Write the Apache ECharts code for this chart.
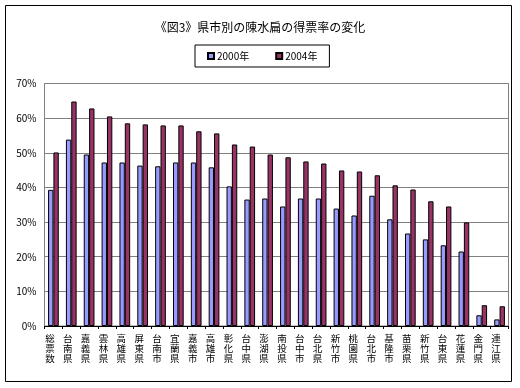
<!DOCTYPE html>
<html>
<head>
<meta charset="utf-8">
<script src="https://cdn.jsdelivr.net/npm/echarts@6/dist/echarts.min.js"></script>
<style>
html,body{margin:0;padding:0;background:#fff;}
#c{width:520px;height:388px;}
</style>
</head>
<body>
<div id="c"></div>
<script>
const categories = ['総票数','台南県','嘉義県','雲林県','高雄県','屏東県','台南市','宜蘭県','嘉義市','高雄市','彰化県','台中県','澎湖県','南投県','台中市','台北県','新竹市','桃園県','台北市','基隆市','苗栗県','新竹県','台東県','花蓮県','金門県','連江県'];
const v2000 = [39.3,53.8,49.5,47.2,47.2,46.3,46.1,47.2,47.2,45.8,40.3,36.5,36.8,34.5,36.8,36.8,33.9,31.9,37.6,30.8,26.7,25.0,23.3,21.5,3.1,1.9];
const v2004 = [50.1,64.8,62.8,60.5,58.5,58.2,57.9,57.9,56.2,55.6,52.4,51.8,49.5,48.7,47.5,46.9,44.9,44.6,43.5,40.6,39.4,36.0,34.5,29.9,6.0,5.7];
const yTicks = [0,10,20,30,40,50,60,70];

const font = '"Noto Sans CJK JP", "Noto Sans", sans-serif';
const chart = echarts.init(document.getElementById('c'), null, {renderer:'canvas'});
chart.setOption({
  backgroundColor:'#fff',
  animation:false,
  title:{
    text:'《図3》県市別の陳水扁の得票率の変化',
    left:'center', top:16,
    textStyle:{fontFamily:font,fontSize:12,fontWeight:'normal',color:'#000'}
  },
  legend:{
    left:195, top:45,
    width:117,
    borderColor:'#000', borderWidth:1,
    padding:[6,12,6,12],
    itemWidth:6, itemHeight:6, itemGap:26,
    icon:'rect',
    textStyle:{fontFamily:font,fontSize:10,color:'#000',padding:[0,0,0,-2]},
    data:['2000年','2004年']
  },
  grid:{left:44.5, top:83.5, width:464, height:242.5, show:true, borderColor:'#808080', borderWidth:1},
  xAxis:{
    type:'category',
    data:categories,
    axisLine:{lineStyle:{color:'#000',width:1}},
    axisTick:{show:true,length:3,lineStyle:{color:'#000'}},
    axisLabel:{
      interval:0, rotate:0, margin:7, hideOverlap:false,
      fontFamily:font, fontSize:9.5, lineHeight:10, color:'#000',
      padding:[0,7,0,0],
      formatter: s => s.split('').join('\n')
    }
  },
  yAxis:{
    type:'value', min:0, max:70, interval:10,
    axisLine:{show:false},
    axisTick:{show:false},
    splitLine:{lineStyle:{color:'#808080',width:1}},
    axisLabel:{fontFamily:font,fontSize:10,color:'#000',margin:8,
      formatter: v => yTicks.includes(v) ? v + '%' : ''}
  },
  series:[
    {name:'2000年', type:'bar', data:v2000, barGap:'0%', barCategoryGap:'40%',
     itemStyle:{color:'#9999FF', borderColor:'#000', borderWidth:1}},
    {name:'2004年', type:'bar', data:v2004,
     itemStyle:{color:'#993366', borderColor:'#000', borderWidth:1}}
  ],
  graphic:[{type:'rect', shape:{x:5.5,y:5.5,width:506,height:376}, style:{fill:null, stroke:'#000', lineWidth:1}, silent:true, z:-1}]
});
</script>
</body>
</html>
